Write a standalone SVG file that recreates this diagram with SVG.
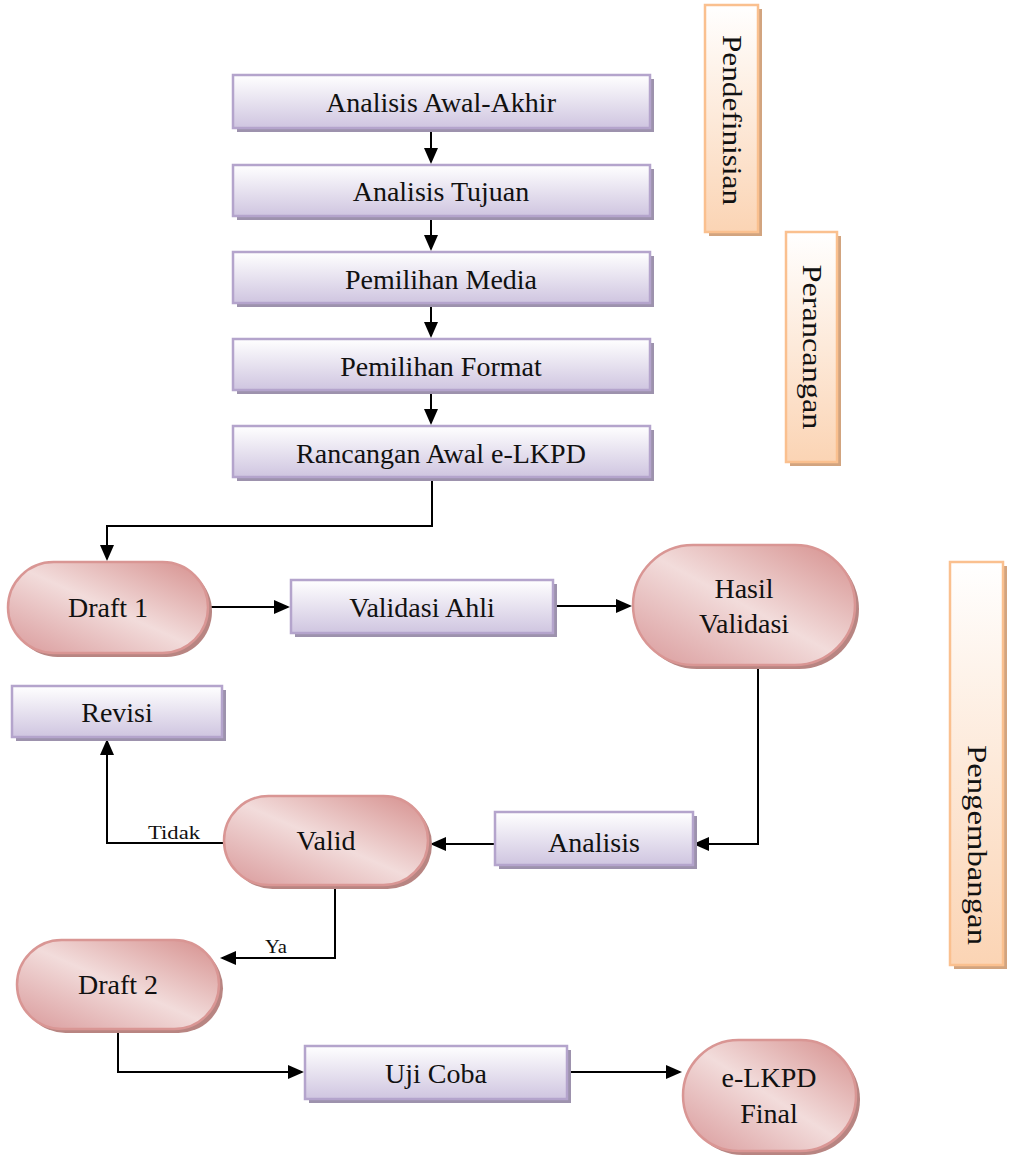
<svg xmlns="http://www.w3.org/2000/svg" width="1010" height="1163" viewBox="0 0 1010 1163">
<style>
text{font-family:"Liberation Serif","DejaVu Serif",serif;fill:#111;}
.t{font-size:28px;text-anchor:middle;}
.v{font-size:28px;text-anchor:middle;}
.s{font-size:19px;}
.box{fill:url(#gPurple);stroke:#b4a4cc;stroke-width:2.5;}
.bsh{fill:#9d92ad;}
.pill{fill:url(#gPink);stroke:#d99694;stroke-width:2.5;}
.psh{fill:#b88582;}
.ph{fill:url(#gOrange);stroke:#fac08f;stroke-width:2.5;}
.phs{fill:#d2a47f;}
.c{fill:none;stroke:#000;stroke-width:2;}
</style>
<defs>
<linearGradient id="gPurple" x1="0" y1="0" x2="0" y2="1">
<stop offset="0" stop-color="#ffffff"/><stop offset="1" stop-color="#cfc5e0"/>
</linearGradient>
<linearGradient id="gPink" x1="1" y1="0" x2="0" y2="1">
<stop offset="0" stop-color="#d58e8c"/><stop offset="0.5" stop-color="#f2dcdb"/><stop offset="1" stop-color="#d9999a"/>
</linearGradient>
<linearGradient id="gOrange" x1="0" y1="0" x2="0" y2="1">
<stop offset="0" stop-color="#ffffff"/><stop offset="1" stop-color="#fbd4b4"/>
</linearGradient>
</defs>
<g id="connectors">
<path class="c" d="M431,130 V162"/>
<path class="c" d="M431,217 V249"/>
<path class="c" d="M431,305 V336"/>
<path class="c" d="M431,392 V423"/>
<path class="c" d="M432,480 V526 H107 V559"/>
<path class="c" d="M210,607 H288"/>
<path class="c" d="M555,606 H630"/>
<path class="c" d="M758,667 V844 H695"/>
<path class="c" d="M495,844 H432"/>
<path class="c" d="M224,843 H107 V741"/>
<path class="c" d="M335,887 V958 H222"/>
<path class="c" d="M118,1031 V1072 H302"/>
<path class="c" d="M569,1072 H680"/>
<g fill="#000">
<path d="M424,148 L438,148 L431,164 z"/>
<path d="M424,235 L438,235 L431,251 z"/>
<path d="M424,322 L438,322 L431,338 z"/>
<path d="M424,409 L438,409 L431,425 z"/>
<path d="M100,545 L114,545 L107,561 z"/>
<path d="M274,600 L274,614 L290,607 z"/>
<path d="M616,599 L616,613 L632,606 z"/>
<path d="M709,837 L709,851 L693,844 z"/>
<path d="M446,837 L446,851 L430,844 z"/>
<path d="M100,755 L114,755 L107,739 z"/>
<path d="M236,951 L236,965 L220,958 z"/>
<path d="M288,1065 L288,1079 L304,1072 z"/>
<path d="M666,1065 L666,1079 L682,1072 z"/>
</g>
<text class="s" x="148" y="839" textLength="52" lengthAdjust="spacingAndGlyphs">Tidak</text>
<text class="s" x="265" y="953" textLength="22" lengthAdjust="spacingAndGlyphs">Ya</text>
</g>
<g id="n-pendefinisian">
<rect class="phs" x="709" y="9" width="53" height="227"/>
<rect class="ph" x="705" y="5" width="53" height="227"/>
<text class="v" transform="translate(731.5,120) rotate(90)" y="9" textLength="170" lengthAdjust="spacingAndGlyphs">Pendefinisian</text>
</g>
<g id="n-perancangan">
<rect class="phs" x="790" y="236" width="51" height="230"/>
<rect class="ph" x="786" y="232" width="51" height="230"/>
<text class="v" transform="translate(811.5,347) rotate(90)" y="9" textLength="165" lengthAdjust="spacingAndGlyphs">Perancangan</text>
</g>
<g id="n-pengembangan">
<rect class="phs" x="954" y="566" width="53" height="403"/>
<rect class="ph" x="950" y="562" width="53" height="403"/>
<text class="v" transform="translate(976.5,845) rotate(90)" y="9" textLength="200" lengthAdjust="spacingAndGlyphs">Pengembangan</text>
</g>
<g id="n-analisis-awal">
<rect class="bsh" x="237" y="79" width="417" height="53"/>
<rect class="box" x="233" y="75" width="417" height="53"/>
<text class="t" x="441" y="112">Analisis Awal-Akhir</text>
</g>
<g id="n-analisis-tujuan">
<rect class="bsh" x="237" y="169" width="417" height="51"/>
<rect class="box" x="233" y="165" width="417" height="51"/>
<text class="t" x="441" y="201">Analisis Tujuan</text>
</g>
<g id="n-pemilihan-media">
<rect class="bsh" x="237" y="256" width="417" height="51"/>
<rect class="box" x="233" y="252" width="417" height="51"/>
<text class="t" x="441" y="289">Pemilihan Media</text>
</g>
<g id="n-pemilihan-format">
<rect class="bsh" x="237" y="343" width="417" height="51"/>
<rect class="box" x="233" y="339" width="417" height="51"/>
<text class="t" x="441" y="376">Pemilihan Format</text>
</g>
<g id="n-rancangan">
<rect class="bsh" x="237" y="430" width="417" height="51"/>
<rect class="box" x="233" y="426" width="417" height="51"/>
<text class="t" x="441" y="463">Rancangan Awal e-LKPD</text>
</g>
<g id="n-draft1">
<rect class="psh" x="12" y="566" width="200" height="91" rx="45.5"/>
<rect class="pill" x="8" y="562" width="200" height="91" rx="45.5"/>
<text class="t" x="108" y="617">Draft 1</text>
</g>
<g id="n-validasi-ahli">
<rect class="bsh" x="295" y="584" width="262" height="53"/>
<rect class="box" x="291" y="580" width="262" height="53"/>
<text class="t" x="422" y="617">Validasi Ahli</text>
</g>
<g id="n-hasil-validasi">
<rect class="psh" x="637" y="549" width="222" height="120" rx="60"/>
<rect class="pill" x="633" y="545" width="222" height="120" rx="60"/>
<text class="t" x="744" y="598">Hasil</text>
<text class="t" x="744" y="633">Validasi</text>
</g>
<g id="n-revisi">
<rect class="bsh" x="16" y="690" width="210" height="51"/>
<rect class="box" x="12" y="686" width="210" height="51"/>
<text class="t" x="117" y="722">Revisi</text>
</g>
<g id="n-valid">
<rect class="psh" x="228" y="800" width="204" height="89" rx="44.5"/>
<rect class="pill" x="224" y="796" width="204" height="89" rx="44.5"/>
<text class="t" x="326" y="850">Valid</text>
</g>
<g id="n-analisis">
<rect class="bsh" x="499" y="816" width="198" height="53"/>
<rect class="box" x="495" y="812" width="198" height="53"/>
<text class="t" x="594" y="852">Analisis</text>
</g>
<g id="n-draft2">
<rect class="psh" x="21" y="944" width="202" height="89" rx="44.5"/>
<rect class="pill" x="17" y="940" width="202" height="89" rx="44.5"/>
<text class="t" x="118" y="994">Draft 2</text>
</g>
<g id="n-uji-coba">
<rect class="bsh" x="309" y="1050" width="262" height="53"/>
<rect class="box" x="305" y="1046" width="262" height="53"/>
<text class="t" x="436" y="1083">Uji Coba</text>
</g>
<g id="n-final">
<rect class="psh" x="687" y="1044" width="173" height="111" rx="55.5"/>
<rect class="pill" x="683" y="1040" width="173" height="111" rx="55.5"/>
<text class="t" x="769" y="1087">e-LKPD</text>
<text class="t" x="769" y="1123">Final</text>
</g>
</svg>
